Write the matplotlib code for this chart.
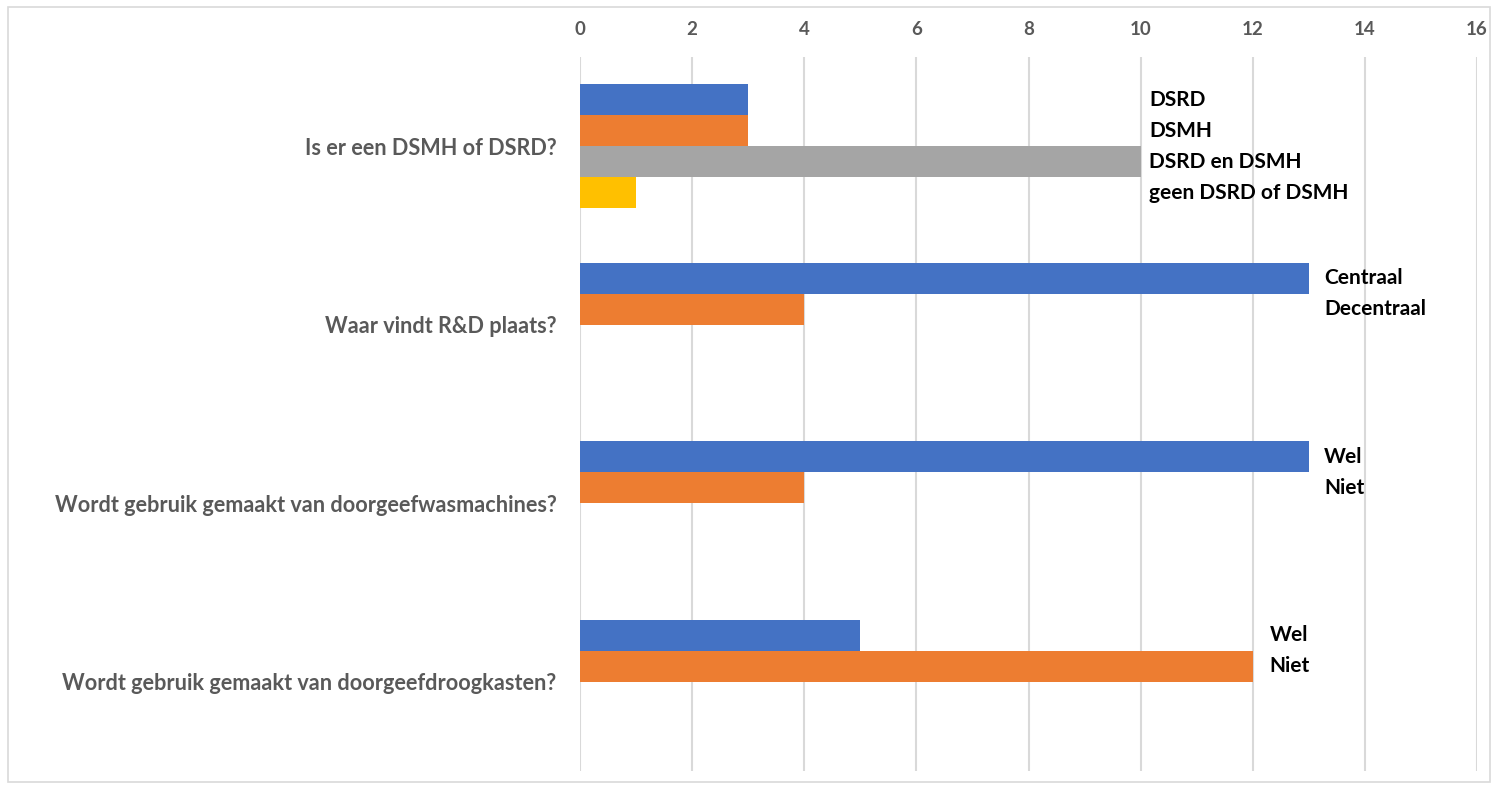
import numpy as np
import matplotlib.pyplot as plt
from matplotlib.patches import Rectangle

plt.rcParams['font.family'] = ['Lato', 'DejaVu Sans']

# Survey questions (top to bottom) with their answer options and counts
questions = [
    'Is er een DSMH of DSRD?',
    'Waar vindt R&D plaats?',
    'Wordt gebruik gemaakt van doorgeefwasmachines?',
    'Wordt gebruik gemaakt van doorgeefdroogkasten?',
]
answers = [
    ['DSRD', 'DSMH', 'DSRD en DSMH', 'geen DSRD of DSMH'],
    ['Centraal', 'Decentraal'],
    ['Wel', 'Niet'],
    ['Wel', 'Niet'],
]
counts = [
    [3, 3, 10, 1],
    [13, 4],
    [13, 4],
    [5, 12],
]
colors = ['#4472C4', '#ED7D31', '#A5A5A5', '#FFC000']
label_offset = [0.15, 0.27, 0.27, 0.3]

fig = plt.figure(figsize=(14.98, 7.86), dpi=100)
fig.patches.append(Rectangle((8 / 1498, 4 / 786), 1482 / 1498, 775 / 786,
                             transform=fig.transFigure, fill=False,
                             edgecolor='#D9D9D9', linewidth=1.2))
ax = fig.add_axes([580 / 1498, 15 / 786, 897 / 1498, 714 / 786])

n_slots = 4
group_h = 0.695
bar_h = group_h / n_slots

for i, (vals, names) in enumerate(zip(counts, answers)):
    for k, (v, name) in enumerate(zip(vals, names)):
        y = i - group_h / 2 + (k + 0.5) * bar_h
        ax.barh(y, v, height=bar_h, color=colors[k], zorder=2)
        ax.text(max(vals) + label_offset[i], y, name, ha='left', va='center',
                fontsize=15, fontweight='bold', color='black', zorder=3)

ax.set_xlim(0, 16)
ax.set_ylim(len(questions) - 0.5, -0.5)
ax.set_xticks(np.arange(0, 17, 2))
ax.set_yticks(range(len(questions)))
ax.set_yticklabels(questions, fontsize=15.6, fontweight='bold', color='#595959')
ax.xaxis.tick_top()
ax.tick_params(axis='x', length=0, pad=14, labelsize=13.5, labelcolor='#595959')
ax.tick_params(axis='y', length=0, pad=17)
for lbl in ax.get_xticklabels():
    lbl.set_fontweight('bold')
ax.grid(axis='x', color='#D9D9D9', linewidth=1.5, zorder=0)
for s in ax.spines.values():
    s.set_visible(False)

fig.savefig('out.png', dpi=100)
